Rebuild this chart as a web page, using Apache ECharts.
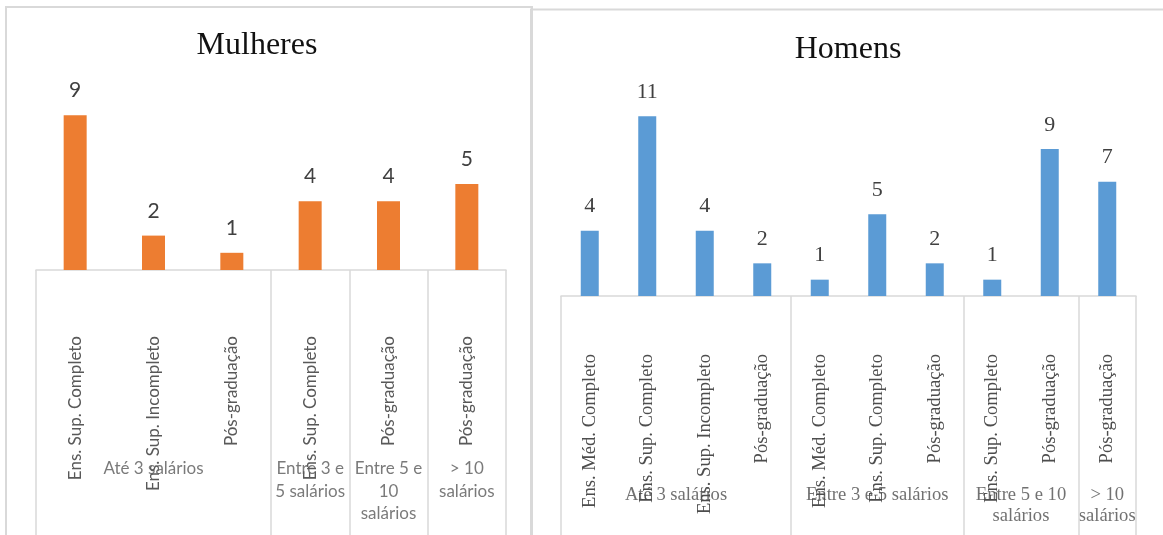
<!DOCTYPE html>
<html>
<head>
<meta charset="utf-8">
<script src="https://cdn.jsdelivr.net/npm/echarts@6/dist/echarts.min.js"></script>
<style>
html,body{margin:0;padding:0;background:#fff;}
#c{width:1163px;height:535px;}
</style>
</head>
<body>
<div id="c"></div>
<script>
// ---- Data ----
const womenTitle = 'Mulheres';
const womenCategories = ['Ens. Sup. Completo','Ens. Sup. Incompleto','Pós-graduação','Ens. Sup. Completo','Pós-graduação','Pós-graduação'];
const womenValues = [9, 2, 1, 4, 4, 5];
const womenGroups = ['Até 3 salários', 'Entre 3 e\n5 salários', 'Entre 5 e\n10\nsalários', '> 10\nsalários'];
const womenGroupSizes = [3, 1, 1, 1];

const menTitle = 'Homens';
const menCategories = ['Ens. Méd. Completo','Ens. Sup. Completo','Ens. Sup. Incompleto','Pós-graduação','Ens. Méd. Completo','Ens. Sup. Completo','Pós-graduação','Ens. Sup. Completo','Pós-graduação','Pós-graduação'];
const menValues = [4, 11, 4, 2, 1, 5, 2, 1, 9, 7];
const menGroups = ['Até 3 salários', 'Entre 3 e 5 salários', 'Entre 5 e 10\nsalários', '> 10\nsalários'];
const menGroupSizes = [4, 3, 2, 1];

// ---- Helpers ----
function groupCenters(sizes, yLevel) {
  const out = []; let s = 0;
  sizes.forEach(n => { out.push([s + n / 2, yLevel]); s += n; });
  return out;
}
function groupBounds(sizes) {
  const out = [0]; let s = 0;
  sizes.forEach(n => { s += n; out.push(s); });
  return out;
}

const GRID_LINE = '#d9d9d9';
const SANS = 'Lato';
const SERIF = 'Liberation Serif';

const chart = echarts.init(document.getElementById('c'), null, {renderer: 'canvas'});

const option = {
  animation: false,
  backgroundColor: '#ffffff',
  grid: [
    {left: 36, width: 470, top: 98, height: 172},
    {left: 36, width: 470, top: 270, height: 270},
    {left: 561, width: 575, top: 100, height: 196},
    {left: 561, width: 575, top: 296, height: 244}
  ],
  xAxis: [
    {
      type: 'category', gridIndex: 0, data: womenCategories,
      axisLine: {lineStyle: {color: GRID_LINE, width: 1.5}},
      axisTick: {show: false},
      axisLabel: {rotate: 90, margin: 66, fontFamily: SANS, fontSize: 17, color: '#595959', interval: 0}
    },
    {type: 'value', gridIndex: 1, min: 0, max: womenCategories.length, show: false},
    {
      type: 'category', gridIndex: 2, data: menCategories,
      axisLine: {lineStyle: {color: GRID_LINE, width: 1.5}},
      axisTick: {show: false},
      axisLabel: {rotate: 90, margin: 58, fontFamily: SERIF, fontSize: 18.6, color: '#4d4d4d', interval: 0}
    },
    {type: 'value', gridIndex: 3, min: 0, max: menCategories.length, show: false}
  ],
  yAxis: [
    {type: 'value', gridIndex: 0, min: 0, max: 10, show: false},
    {type: 'value', gridIndex: 1, min: 0, max: 1, show: false},
    {type: 'value', gridIndex: 2, min: 0, max: 12, show: false},
    {type: 'value', gridIndex: 3, min: 0, max: 1, show: false}
  ],
  series: [
    {
      type: 'bar', xAxisIndex: 0, yAxisIndex: 0, data: womenValues,
      barWidth: 23, itemStyle: {color: '#ED7D31'},
      label: {show: true, position: 'top', distance: 14, fontFamily: SANS, fontSize: 21, color: '#404040'}
    },
    {
      type: 'scatter', xAxisIndex: 1, yAxisIndex: 1, symbolSize: 0, silent: true,
      data: groupCenters(womenGroupSizes, 0.293),
      label: {
        show: true, position: 'bottom', distance: 0, align: 'center',
        fontFamily: SANS, fontSize: 17, lineHeight: 22.5, color: '#595959',
        formatter: p => womenGroups[p.dataIndex]
      },
      markLine: {
        silent: true, symbol: 'none', label: {show: false},
        lineStyle: {color: GRID_LINE, width: 1.5, type: 'solid'},
        data: groupBounds(womenGroupSizes).map(v => ({xAxis: v}))
      }
    },
    {
      type: 'bar', xAxisIndex: 2, yAxisIndex: 2, data: menValues,
      barWidth: 18, itemStyle: {color: '#5B9BD5'},
      label: {show: true, position: 'top', distance: 13, fontFamily: SERIF, fontSize: 22, color: '#404040'}
    },
    {
      type: 'scatter', xAxisIndex: 3, yAxisIndex: 3, symbolSize: 0, silent: true,
      data: groupCenters(menGroupSizes, 0.211),
      label: {
        show: true, position: 'bottom', distance: 0, align: 'center',
        fontFamily: SERIF, fontSize: 18.6, lineHeight: 21, color: '#4d4d4d',
        formatter: p => menGroups[p.dataIndex]
      },
      markLine: {
        silent: true, symbol: 'none', label: {show: false},
        lineStyle: {color: GRID_LINE, width: 1.5, type: 'solid'},
        data: groupBounds(menGroupSizes).map(v => ({xAxis: v}))
      }
    }
  ],
  graphic: [
    {type: 'rect', z: 100, silent: true, shape: {x: 6, y: 7, width: 526, height: 540},
     style: {fill: 'none', stroke: GRID_LINE, lineWidth: 2}},
    {type: 'rect', z: 100, silent: true, shape: {x: 531, y: 9.5, width: 700, height: 540},
     style: {fill: 'none', stroke: GRID_LINE, lineWidth: 2}},
    {type: 'text', z: 100, x: 257, y: 46,
     style: {text: womenTitle, fontFamily: SERIF, fontSize: 32, fill: '#111', textAlign: 'center', textVerticalAlign: 'middle'}},
    {type: 'text', z: 100, x: 848, y: 50,
     style: {text: menTitle, fontFamily: SERIF, fontSize: 32, fill: '#111', textAlign: 'center', textVerticalAlign: 'middle'}}
  ]
};
chart.setOption(option);
</script>
</body>
</html>
